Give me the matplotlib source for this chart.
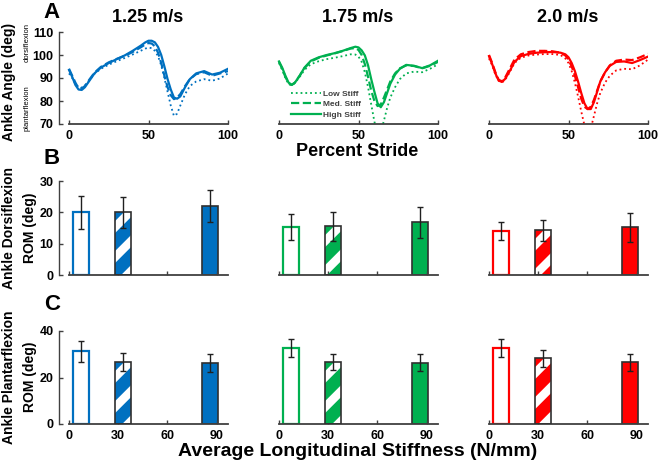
#!/usr/bin/env python3
"""Ankle angle traces and ROM bar charts across shoe stiffness, three walking speeds."""

import matplotlib
matplotlib.use("Agg")
import matplotlib.pyplot as plt
import numpy as np
from matplotlib.lines import Line2D
from matplotlib.transforms import IdentityTransform

plt.rcParams["font.family"] = ["Liberation Sans", "DejaVu Sans"]
plt.rcParams["font.weight"] = "bold"

# ---------------------------------------------------------------------------
# Data
# ---------------------------------------------------------------------------

speeds = ["1.25 m/s", "1.75 m/s", "2.0 m/s"]
speed_colors = ["#0070C0", "#00B050", "#FF0000"]
stiff_labels = ["Low Stiff", "Med. Stiff", "High Stiff"]

stride_pct = [0, 2, 4, 6, 8, 10, 13, 16, 20, 25, 30, 35, 40, 45, 48, 50, 52,
              54, 56, 58, 60, 62, 64, 66, 68, 70, 73, 76, 80, 85, 90, 95, 100]

# ankle angle (deg), per speed: low / med / high stiffness
angle_125_low = [92, 90, 87.5, 86, 85.8, 86.8, 89.2, 91.8, 94, 95.8, 97.3, 98.7,
                 100.2, 101.8, 102.8, 103.2, 103, 101.8, 99.5, 95.5, 90, 84, 78,
                 73.5, 74.5, 78, 83, 86.5, 88.5, 89.5, 88.8, 89.8, 92]
angle_125_med = [94, 91, 88, 85.5, 85.5, 86.5, 89.5, 92.3, 94.8, 96.8, 98.3, 99.6,
                 101.3, 103.3, 104.6, 105.2, 105, 103.8, 101, 96.5, 91, 86, 82.5,
                 80.8, 81.5, 83, 86.5, 89.5, 91.7, 92.5, 91, 92, 93]
angle_125_high = [93.5, 90.5, 87, 85, 84.8, 86, 89, 92, 94.5, 96.5, 98.2, 99.8,
                  101.8, 104, 105.5, 106.2, 106.2, 105.5, 103.5, 100, 95, 89.5, 85,
                  81.5, 81, 82, 86, 89.5, 92, 93, 91.5, 92.3, 94]

angle_175_low = [96.5, 93.5, 90, 87.3, 86.8, 87.8, 90.5, 93.5, 96, 97.3, 98.2, 98.8,
                 99.5, 100.3, 100.2, 99.3, 97, 92.5, 86, 78.5, 71, 66, 66.5,
                 71.5, 77, 81.5, 86, 89.5, 92, 92.8, 92.5, 94, 96]
angle_175_med = [97, 94, 90.5, 87.8, 87, 88, 91, 94.3, 97.2, 98.8, 99.8, 100.7,
                 101.7, 102.8, 103, 102.2, 100, 96, 90.5, 84.5, 80, 77.8, 78.5,
                 81.5, 85, 88.5, 92, 94.2, 95.5, 95.2, 94.2, 95.3, 97]
angle_175_high = [97.2, 94.5, 91, 88, 87, 88, 91, 94.5, 97.5, 99, 100, 100.8,
                  101.8, 103, 103.6, 103.3, 102, 99.8, 95.5, 89.5, 84, 79, 77.3,
                  79.5, 83.5, 87.5, 91.5, 94, 95.7, 95.3, 94.3, 95.5, 97.5]

angle_200_low = [98.5, 95.5, 91.5, 88.8, 88, 89, 92.5, 96.5, 98.8, 99.8, 100.2, 100.4,
                 100.4, 100, 98.5, 96.5, 93, 88, 82, 75.5, 69.5, 66, 68,
                 73.5, 79, 83.5, 88, 91, 93.3, 94, 93.8, 95.5, 98]
angle_200_med = [100, 96.5, 92.5, 89.3, 88.5, 90, 94, 98, 100.3, 101.3, 101.8, 101.8,
                 101.6, 101, 99.8, 98, 95, 91, 86, 81, 77.5, 76.5, 77.5,
                 80.5, 84.5, 88.5, 92.5, 95.5, 97.5, 98, 97.8, 99, 100.5]
angle_200_high = [99.5, 96, 92, 89, 88.3, 89.5, 93, 97, 99.5, 100.5, 101, 101.2,
                  101.3, 101, 100.3, 99, 96.5, 93, 88.5, 83.5, 79, 76.5, 76.5,
                  79.5, 84, 88.5, 92.5, 95.3, 97, 97.2, 96.5, 97.8, 99.3]

angles = [
    [angle_125_low, angle_125_med, angle_125_high],
    [angle_175_low, angle_175_med, angle_175_high],
    [angle_200_low, angle_200_med, angle_200_high],
]

# average longitudinal stiffness (N/mm) of the three shoes
stiffness = [7.5, 33, 86]

# ROM means / SD, per speed: low / med / high
dorsi_mean = [[20.0, 20.0, 22.0], [15.3, 15.5, 16.8], [14.0, 14.3, 15.2]]
dorsi_sd = [[5.3, 5.0, 5.0], [4.2, 4.7, 5.0], [2.9, 3.4, 4.7]]
plantar_mean = [[31.3, 26.5, 26.3], [32.7, 26.5, 26.4], [32.8, 28.2, 26.5]]
plantar_sd = [[4.5, 3.9, 4.0], [3.8, 3.4, 3.5], [3.9, 3.8, 3.8]]

# ---------------------------------------------------------------------------
# Layout helpers
# ---------------------------------------------------------------------------

W, H = 658, 467
AXIS_GRAY = "#404040"
PANEL_LEFT = [59, 269, 479]
PANEL_W = 169
STRIPE_PERIOD = 30   # px, horizontal distance between stripes
STRIPE_FRAC = 0.6    # coloured share of each period


def px_axes(fig, left, top, width, height):
    """Add axes from pixel box (top-left origin)."""
    return fig.add_axes([left / W, 1 - (top + height) / H, width / W, height / H])


def style_axes(ax, first, xmax):
    for s in ("top", "right"):
        ax.spines[s].set_visible(False)
    ax.spines["bottom"].set_color(AXIS_GRAY)
    ax.spines["left"].set_color(AXIS_GRAY)
    ax.spines["bottom"].set_linewidth(1.3)
    ax.spines["left"].set_linewidth(1.0)
    ax.spines["bottom"].set_bounds(0, xmax)
    ax.tick_params(direction="in", length=3, width=1, color=AXIS_GRAY,
                   labelsize=9, pad=4)
    if not first:
        ax.spines["left"].set_visible(False)
        ax.tick_params(left=False, labelleft=False)


def stripe_bar(ax, rect, color):
    """Fill a bar with thick '/' stripes, drawn in pixel space and clipped to it."""
    (x0, y0), (x1, y1) = ax.transData.transform(
        [(rect.get_x(), rect.get_y()),
         (rect.get_x() + rect.get_width(), rect.get_y() + rect.get_height())])
    h = y1 - y0
    lw_pt = STRIPE_PERIOD / np.sqrt(2) * STRIPE_FRAC * 72 / fig.dpi
    for c in np.arange(x0 - h - STRIPE_PERIOD, x1 + STRIPE_PERIOD, STRIPE_PERIOD):
        ln = Line2D([c, c + h], [y0, y1], color=color, lw=lw_pt,
                    solid_capstyle="projecting", transform=IdentityTransform())
        ax.add_line(ln)
        ln.set_clip_path(rect)


fig = plt.figure(figsize=(W / 100, H / 100), dpi=100)

# ---------------------------------------------------------------------------
# Row A: ankle angle traces
# ---------------------------------------------------------------------------

line_styles = [":", "--", "-"]
line_widths = [1.3, 1.6, 1.6]
for i in range(3):
    ax = px_axes(fig, PANEL_LEFT[i], 32, PANEL_W, 92)
    for j in range(3):
        ax.plot(stride_pct, angles[i][j], color=speed_colors[i], ls=line_styles[j],
                lw=line_widths[j], label=stiff_labels[j])
    ax.set_xlim(-6.3, 100)
    ax.set_ylim(70, 110)
    ax.set_xticks([0, 50, 100])
    ax.set_yticks([70, 80, 90, 100, 110])
    style_axes(ax, i == 0, 100)
    fig.text((PANEL_LEFT[i] + 89) / W, 1 - 17 / H, speeds[i], ha="center",
             va="center", fontsize=13, fontweight="bold")
    if i == 1:
        leg = ax.legend(loc="lower left", bbox_to_anchor=(0.1, 0.0), frameon=False,
                        fontsize=6, handlelength=3.6, labelspacing=0.35,
                        borderpad=0.1, handletextpad=0.3)
        for t in leg.get_texts():
            t.set_color(AXIS_GRAY)

# ---------------------------------------------------------------------------
# Rows B, C: ROM bars
# ---------------------------------------------------------------------------


def draw_bars(ax, color, means, sds, ylim, yticks):
    ax.set_xlim(-6, 97)
    ax.set_ylim(*ylim)
    ax.set_xticks([0, 30, 60, 90])
    ax.set_yticks(yticks)
    # low: open bar
    ax.bar(stiffness[0], means[0], width=10, facecolor="white", edgecolor=color,
           linewidth=1.6)
    # med: diagonal stripes, dark outline
    med = ax.bar(stiffness[1], means[1], width=10, facecolor="white",
                 edgecolor="none", linewidth=0)
    stripe_bar(ax, med.patches[0], color)
    ax.bar(stiffness[1], means[1], width=10, fill=False, edgecolor="#303030",
           linewidth=1.2, zorder=3)
    # high: solid
    ax.bar(stiffness[2], means[2], width=10, facecolor=color, edgecolor="#303030",
           linewidth=1.2)
    ax.errorbar(stiffness, means, yerr=sds, fmt="none", ecolor="#202020",
                elinewidth=1.0, capsize=2.5, capthick=1.0, zorder=4)


for i in range(3):
    axb = px_axes(fig, PANEL_LEFT[i], 181, PANEL_W, 94)
    draw_bars(axb, speed_colors[i], dorsi_mean[i], dorsi_sd[i], (0, 30),
              [0, 10, 20, 30])
    style_axes(axb, i == 0, 97)
    axb.tick_params(labelbottom=False)

    axc = px_axes(fig, PANEL_LEFT[i], 331, PANEL_W, 93)
    draw_bars(axc, speed_colors[i], plantar_mean[i], plantar_sd[i], (0, 40),
              [0, 20, 40])
    style_axes(axc, i == 0, 97)

# ---------------------------------------------------------------------------
# Labels
# ---------------------------------------------------------------------------

for letter, (x, y) in zip("ABC", [(52, 13), (52, 158), (52, 305)]):
    fig.text(x / W, 1 - y / H, letter, ha="center", va="center",
             fontsize=16, fontweight="bold")

fig.text(9 / W, 1 - 82 / H, "Ankle Angle (deg)", rotation=90, ha="center",
         va="center", fontsize=10, fontweight="bold")
fig.text(27 / W, 1 - 42 / H, "dorsiflexion", rotation=90, ha="center",
         va="center", fontsize=5.5, fontweight="normal")
fig.text(27 / W, 1 - 108 / H, "plantarflexion", rotation=90, ha="center",
         va="center", fontsize=5.5, fontweight="normal")

fig.text(9 / W, 1 - 228 / H, "Ankle Dorsiflexion", rotation=90, ha="center",
         va="center", fontsize=10, fontweight="bold")
fig.text(30 / W, 1 - 228 / H, "ROM (deg)", rotation=90, ha="center",
         va="center", fontsize=10, fontweight="bold")
fig.text(9 / W, 1 - 377 / H, "Ankle Plantarflexion", rotation=90, ha="center",
         va="center", fontsize=10, fontweight="bold")
fig.text(30 / W, 1 - 377 / H, "ROM (deg)", rotation=90, ha="center",
         va="center", fontsize=10, fontweight="bold")

fig.text(357 / W, 1 - 152 / H, "Percent Stride", ha="center", va="center",
         fontsize=13, fontweight="bold")
fig.text(358 / W, 1 - 452 / H, "Average Longitudinal Stiffness (N/mm)",
         ha="center", va="center", fontsize=14, fontweight="bold")

fig.savefig("out.png", dpi=100)
plt.close("all")
